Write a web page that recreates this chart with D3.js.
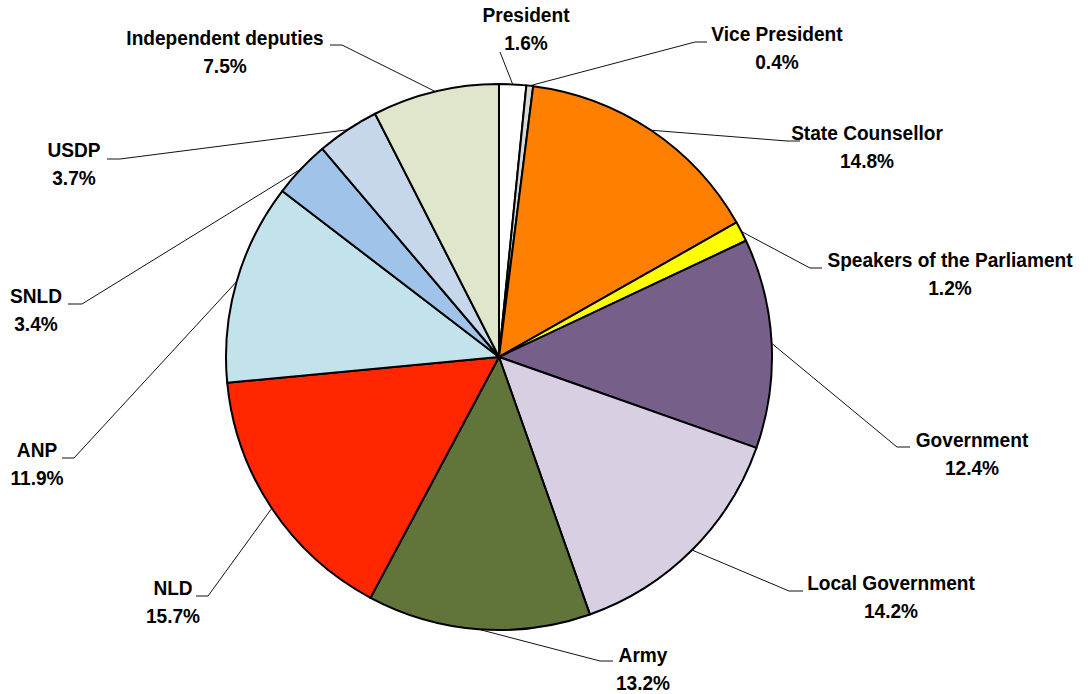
<!DOCTYPE html>
<html>
<head>
<meta charset="utf-8">
<script src="https://cdn.jsdelivr.net/npm/d3@7"></script>
<style>
  html, body { margin: 0; padding: 0; background: #fff; }
  svg { display: block; }
  .lbl { font-family: "Liberation Sans Narrow", "Arial Narrow", "Liberation Sans", Arial, sans-serif; font-weight: bold; font-size: 21px; fill: #000; }
</style>
</head>
<body>
<svg id="chart" width="1088" height="694"></svg>
<script>
// Share by office / party (percent), clockwise from 12 o'clock
const categories = [
  'President', 'Vice President', 'State Counsellor', 'Speakers of the Parliament',
  'Government', 'Local Government', 'Army', 'NLD', 'ANP', 'SNLD', 'USDP', 'Independent deputies'
];
const values = [1.6, 0.4, 14.8, 1.2, 12.4, 14.2, 13.2, 15.7, 11.9, 3.4, 3.7, 7.5];
const colors = [
  '#ffffff', '#d9d9d9', '#ff8000', '#ffff00', '#76608a', '#d8cfe3',
  '#617439', '#ff2600', '#c3e3ec', '#9fc3e9', '#c6d7ec', '#dfe6cc'
];

// label placement: text centre x, first baseline y, elbow of leader, end of short horizontal run
const labelLayout = [
  { tx: 526, ty: 22,  elbow: [500, 52],  hx: 500 },
  { tx: 777, ty: 41,  elbow: [695, 42],  hx: 707 },
  { tx: 867, ty: 140, elbow: [787, 141], hx: 800 },
  { tx: 950, ty: 267, elbow: [810, 268], hx: 822 },
  { tx: 972, ty: 447, elbow: [897, 447], hx: 910 },
  { tx: 891, ty: 590, elbow: [789, 591], hx: 803 },
  { tx: 643, ty: 662, elbow: [600, 661], hx: 613 },
  { tx: 173, ty: 595, elbow: [208, 596], hx: 196 },
  { tx: 37,  ty: 457, elbow: [74, 458],  hx: 62 },
  { tx: 36,  ty: 303, elbow: [82, 304],  hx: 68 },
  { tx: 74,  ty: 157, elbow: [120, 159], hx: 107 },
  { tx: 225, ty: 45,  elbow: [342, 45],  hx: 330 }
];

const CX = 499, CY = 357, R = 273, LINE_GAP = 28;
// no narrow face installed, so squeeze the regular bold one
const NARROW = 0.91;

const svg = d3.select('#chart');
const g = svg.append('g').attr('transform', `translate(${CX},${CY})`);

const pie = d3.pie().sort(null).value((d) => d.value);
const data = categories.map((name, i) => ({ name, value: values[i], color: colors[i], layout: labelLayout[i] }));
const arcs = pie(data);

const arc = d3.arc().innerRadius(0).outerRadius(R);
const edge = d3.arc().innerRadius(R).outerRadius(R);

g.selectAll('path.slice')
  .data(arcs)
  .join('path')
  .attr('class', 'slice')
  .attr('d', arc)
  .attr('fill', (d) => d.data.color)
  .attr('stroke', '#000')
  .attr('stroke-width', 2)
  .attr('stroke-linejoin', 'round');

// leader lines, drawn in page coordinates
const leaders = svg.append('g');
arcs.forEach((d) => {
  const [ex, ey] = edge.centroid(d);
  const L = d.data.layout;
  const pts = [[CX + ex, CY + ey], L.elbow, [L.hx, L.elbow[1]]];
  leaders.append('path')
    .attr('d', d3.line()(pts))
    .attr('fill', 'none')
    .attr('stroke', '#111')
    .attr('stroke-width', 1);
});

const labels = svg.append('g');
arcs.forEach((d) => {
  const L = d.data.layout;
  const t = labels.append('text')
    .attr('class', 'lbl')
    .attr('text-anchor', 'middle')
    .attr('transform', `translate(${L.tx},0) scale(${NARROW},1)`);
  t.append('tspan').attr('x', 0).attr('y', L.ty).text(d.data.name);
  t.append('tspan').attr('x', 0).attr('y', L.ty + LINE_GAP).text(`${d.data.value.toFixed(1)}%`);
});
</script>
</body>
</html>
